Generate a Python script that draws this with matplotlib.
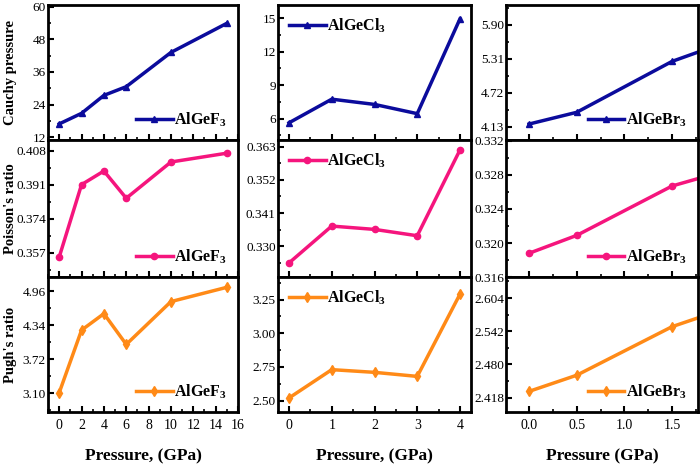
import matplotlib
matplotlib.use("Agg")
import matplotlib.pyplot as plt
from matplotlib.ticker import MultipleLocator, FixedLocator, FormatStrFormatter

plt.rcParams["font.family"] = ["Liberation Serif", "DejaVu Serif"]
plt.rcParams["mathtext.default"] = "regular"

# datos
p_f = [0, 2, 4, 6, 10, 15]
cauchy_f = [16.9, 20.8, 27.4, 30.6, 43.2, 53.9]
poisson_f = [0.3548, 0.391, 0.3978, 0.3842, 0.4023, 0.4067]
pugh_f = [3.11, 4.25, 4.55, 3.99, 4.77, 5.03]

p_cl = [0, 1, 2, 3, 4]
cauchy_cl = [5.62, 7.74, 7.27, 6.44, 14.95]
poisson_cl = [0.3245, 0.3367, 0.3356, 0.3335, 0.3619]
pugh_cl = [2.52, 2.73, 2.71, 2.68, 3.29]

p_br = [0.0, 0.5, 1.5, 2.0]
cauchy_br = [4.176, 4.38, 5.264, 5.56]
poisson_br = [0.3188, 0.3209, 0.3267, 0.3283]
pugh_br = [2.4295, 2.4597, 2.5505, 2.5807]

labels_f = "AlGeF$_3$"
labels_cl = "AlGeCl$_3$"
labels_br = "AlGeBr$_3$"

blue = "#0b0b9c"
pink = "#f5157d"
orange = "#ff8a17"

fig = plt.figure(figsize=(7, 4.65), dpi=100)

lefts = [0.0686, 0.397, 0.723]
widths = [0.2714, 0.276, 0.274]
bottoms = [0.699, 0.404, 0.114]
heights = [0.290, 0.295, 0.290]

columnas = [
    dict(x=p_f, ys=[cauchy_f, poisson_f, pugh_f], label=labels_f, loc="lower right",
         xlim=(-1, 16), xmaj=2, xmin=1, xfmt="%d", xlabel="Pressure, (GPa)",
         ylims=[(11.0, 60.6), (0.3448, 0.4133), (2.76, 5.215)],
         yticks=[[12, 24, 36, 48, 60], [0.357, 0.374, 0.391, 0.408], [3.10, 3.72, 4.34, 4.96]],
         yfmt=["%d", "%.3f", "%.2f"]),
    dict(x=p_cl, ys=[cauchy_cl, poisson_cl, pugh_cl], label=labels_cl, loc="upper left",
         xlim=(-0.26, 4.26), xmaj=1, xmin=0.5, xfmt="%d", xlabel="Pressure, (GPa)",
         ylims=[(4.08, 16.18), (0.3198, 0.3652), (2.416, 3.416)],
         yticks=[[6, 9, 12, 15], [0.330, 0.341, 0.352, 0.363], [2.50, 2.75, 3.00, 3.25]],
         yfmt=["%d", "%.3f", "%.2f"]),
    dict(x=p_br, ys=[cauchy_br, poisson_br, pugh_br], label=labels_br, loc="lower right",
         xlim=(-0.24, 1.77), xmaj=0.5, xmin=0.25, xfmt="%.1f", xlabel="Pressure (GPa)",
         ylims=[(3.90, 6.24), (0.316, 0.3321), (2.391, 2.643)],
         yticks=[[4.13, 4.72, 5.31, 5.90], [0.316, 0.320, 0.324, 0.328, 0.332], [2.418, 2.480, 2.542, 2.604]],
         yfmt=["%.2f", "%.3f", "%.3f"]),
]

estilos = [(blue, "^", 5), (pink, "o", 4.5), (orange, "d", 5.5)]
ylabels = ["Cauchy pressure", "Poisson's ratio", "Pugh's ratio"]

for c, col in enumerate(columnas):
    for r in range(3):
        ax = fig.add_axes([lefts[c], bottoms[r], widths[c], heights[r]])
        color, marker, ms = estilos[r]
        ax.plot(col["x"], col["ys"][r], color=color, marker=marker, markersize=ms,
                linewidth=2.5, label=col["label"])
        ax.set_xlim(*col["xlim"])
        ax.set_ylim(*col["ylims"][r])
        ax.xaxis.set_major_locator(MultipleLocator(col["xmaj"]))
        ax.xaxis.set_minor_locator(MultipleLocator(col["xmin"]))
        ax.xaxis.set_major_formatter(FormatStrFormatter(col["xfmt"]))
        yt = col["yticks"][r]
        ax.yaxis.set_major_locator(FixedLocator(yt))
        paso = yt[1] - yt[0]
        menores = [yt[0] - paso / 2] + [v + paso / 2 for v in yt]
        ax.yaxis.set_minor_locator(FixedLocator(menores))
        ax.yaxis.set_major_formatter(FormatStrFormatter(col["yfmt"][r]))
        ax.tick_params(which="major", direction="in", length=4, width=1.5, labelsize=9.5, pad=1.5)
        ax.tick_params(which="minor", direction="in", length=2.5, width=1.2)
        for s in ax.spines.values():
            s.set_linewidth(2)
        if r < 2:
            ax.tick_params(axis="x", labelbottom=False)
        else:
            ax.tick_params(axis="x", pad=5, labelsize=10)
            ax.set_xlabel(col["xlabel"], fontsize=12.5, fontweight="bold", labelpad=12)
        if c == 0:
            ax.set_ylabel(ylabels[r], fontsize=10.5, fontweight="bold")
            ax.yaxis.set_label_coords(-0.162, 0.5)
        leg = ax.legend(loc=col["loc"], frameon=False, handlelength=2.3,
                        handletextpad=0.1, borderaxespad=0.3,
                        prop={"weight": "bold", "size": 11.5})

fig.savefig("out.png", dpi=100)
